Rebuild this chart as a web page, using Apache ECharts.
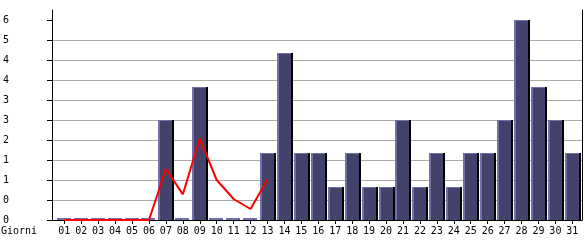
<!DOCTYPE html>
<html>
<head>
<meta charset="utf-8">
<script src="https://cdn.jsdelivr.net/npm/echarts@6/dist/echarts.min.js"></script>
<style>
html,body{margin:0;padding:0;background:#fff;}
#c{width:585px;height:240px;}
</style>
</head>
<body>
<div id="c"></div>
<script>
const days = ['01','02','03','04','05','06','07','08','09','10','11','12','13','14','15','16','17','18','19','20','21','22','23','24','25','26','27','28','29','30','31'];
const visits = [0,0,0,0,0,0,3,0,4,0,0,0,2,5,2,2,1,2,1,1,3,1,2,1,2,2,3,6,4,3,2];
const trend = [0,0,0,0,0,0,1.53,0.77,2.44,1.2,0.63,0.33,1.22];
const yTickValues = [0,0.6,1.2,1.8,2.4,3,3.6,4.2,4.8,5.4,6];
const yTickLabels = ['0','0','1','1','2','3','3','4','4','5','6'];
const xName = 'Giorni';

const FONT = 'DejaVu Sans Mono';
const dayNums = days.map((d, i) => i + 1);

const chart = echarts.init(document.getElementById('c'), null, {renderer: 'canvas'});
chart.setOption({
  animation: false,
  backgroundColor: '#ffffff',
  title: {
    text: xName, left: 1, top: 226, padding: 0,
    textStyle: {fontFamily: FONT, fontSize: 10, fontWeight: 'normal', color: '#000'}
  },
  grid: {left: 50, right: 3, top: 10, bottom: 20, containLabel: false},
  xAxis: [{
    type: 'value', min: 0.2765, max: 31.571, position: 'bottom',
    axisLine: {show: false},
    axisTick: {show: true, length: 4, customValues: dayNums, lineStyle: {color: '#000', width: 1}},
    axisLabel: {
      customValues: dayNums, margin: 6, fontFamily: FONT, fontSize: 10, color: '#000',
      formatter: v => days[Math.round(v) - 1] || ''
    },
    splitLine: {show: false}
  }, {
    type: 'value', min: 0.2765, max: 31.571, position: 'top',
    axisLine: {show: true, lineStyle: {color: '#000', width: 1}},
    axisTick: {show: false}, axisLabel: {show: false}, splitLine: {show: false}
  }],
  yAxis: [{
    type: 'value', min: 0, max: 6.3, position: 'left',
    axisLine: {show: true, lineStyle: {color: '#000', width: 1}},
    axisTick: {show: true, length: 5, customValues: yTickValues, lineStyle: {color: '#000', width: 1}},
    axisLabel: {
      customValues: yTickValues, margin: 43, align: 'right', fontFamily: FONT, fontSize: 10, color: '#000',
      formatter: v => {
        let idx = 0, best = 1e9;
        yTickValues.forEach((t, i) => { if (Math.abs(t - v) < best) { best = Math.abs(t - v); idx = i; } });
        return yTickLabels[idx];
      }
    },
    splitLine: {show: true, showMinLine: false, showMaxLine: false, lineStyle: {color: '#aaaaaa', width: 1}}
  }, {
    type: 'value', min: 0, max: 6.3, position: 'right',
    axisLine: {show: true, lineStyle: {color: '#000', width: 1}},
    axisTick: {show: false}, axisLabel: {show: false}, splitLine: {show: false}
  }],
  series: [{
    type: 'custom',
    coordinateSystem: 'cartesian2d',
    xAxisIndex: 0, yAxisIndex: 0,
    encode: {x: 0, y: 1},
    data: visits.map((v, i) => [i + 1, v]),
    z: 2,
    renderItem: function (params, api) {
      const x = api.value(0), v = api.value(1);
      const top = api.coord([x, v]);
      const base = api.coord([x, 0]);
      const x0 = Math.round(top[0] - 7.5);
      const yb = Math.round(base[1]);
      const yt = Math.round(top[1]);
      const h = yb - yt;
      if (h < 2) {
        return {type: 'group', children: [
          {type: 'rect', shape: {x: x0, y: yb - 2, width: 14, height: 2}, style: {fill: '#7070aa'}}
        ]};
      }
      return {type: 'group', children: [
        {type: 'rect', shape: {x: x0 + 14, y: yt, width: 2, height: h}, style: {fill: '#000000'}},
        {type: 'rect', shape: {x: x0, y: yt, width: 14, height: h}, style: {fill: '#7070aa'}},
        {type: 'rect', shape: {x: x0 + 2, y: yt + 1, width: 12, height: h - 1}, style: {fill: '#42426a'}}
      ]};
    }
  }, {
    type: 'line',
    xAxisIndex: 0, yAxisIndex: 0,
    data: trend.map((v, i) => [i + 1, v]),
    symbol: 'none',
    z: 5,
    lineStyle: {color: '#ff0000', width: 2}
  }]
});
</script>
</body>
</html>
